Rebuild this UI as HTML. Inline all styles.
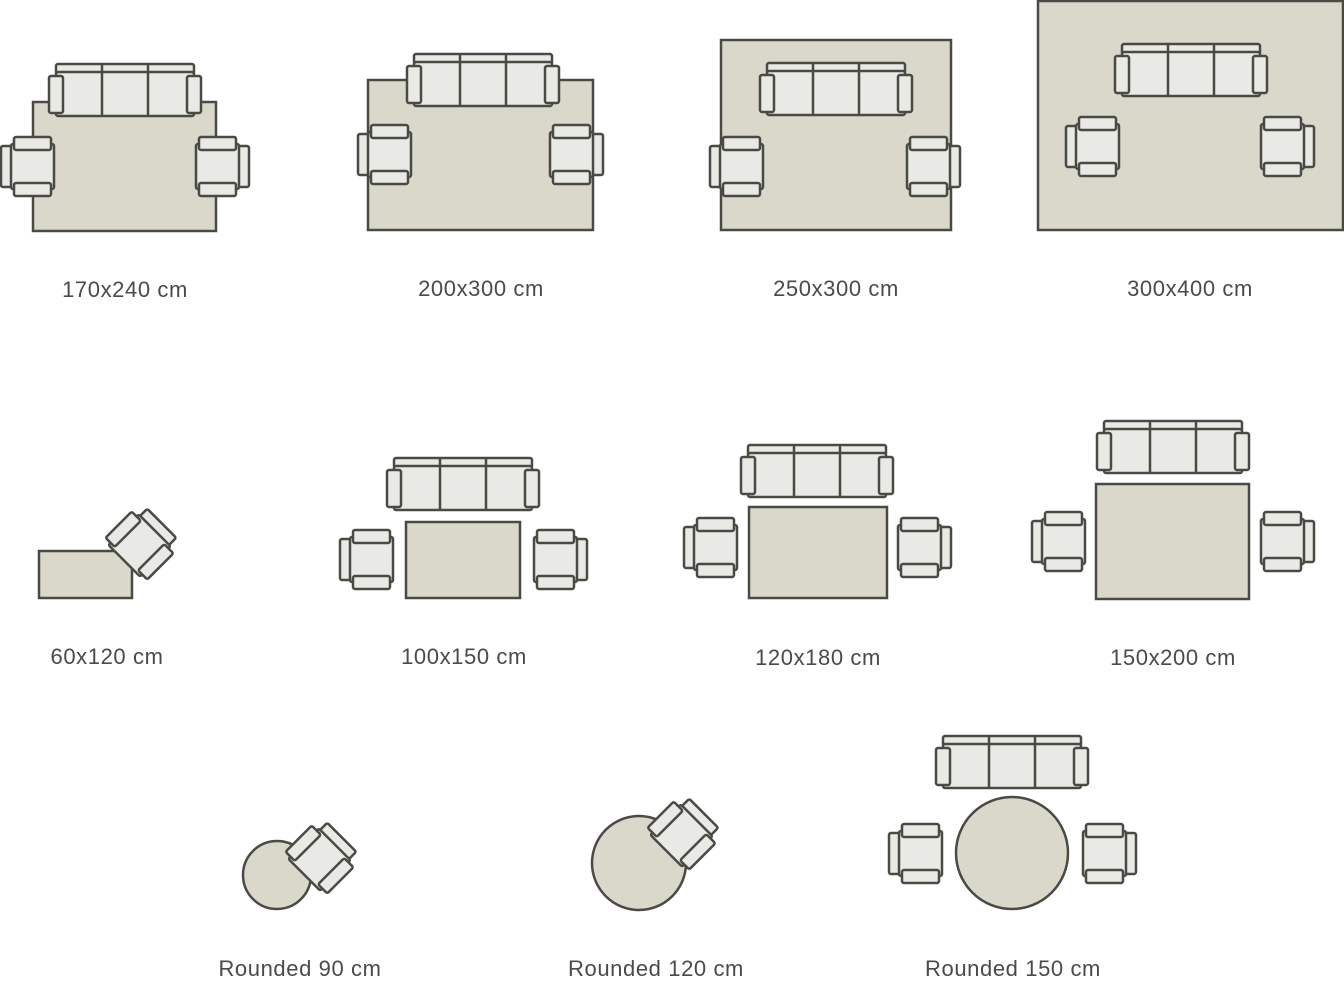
<!DOCTYPE html>
<html><head><meta charset="utf-8"><style>
html,body{margin:0;padding:0;background:#fff;}
svg{display:block}
text{font-family:"Liberation Sans",sans-serif;font-size:22px;letter-spacing:0.6px;fill:#4a4a4a;text-anchor:middle}
</style></head><body>
<svg width="1344" height="1000" viewBox="0 0 1344 1000" xmlns="http://www.w3.org/2000/svg">
<defs>
<g id="sofa" fill="#e9eae5" stroke="#4a4a45" stroke-width="2.5">
  <rect x="7" y="1" width="138" height="10" rx="2"/>
  <rect x="7" y="9" width="138" height="44" rx="2"/>
  <line x1="53" y1="1" x2="53" y2="53"/>
  <line x1="99" y1="1" x2="99" y2="53"/>
  <rect x="0" y="13" width="14" height="37" rx="2"/>
  <rect x="138" y="13" width="14" height="37" rx="2"/>
</g>
<g id="chair" fill="#e9eae5" stroke="#4a4a45" stroke-width="2.5">
  <rect x="0" y="9" width="11" height="41" rx="2"/>
  <rect x="10" y="7" width="43" height="45" rx="2"/>
  <rect x="13" y="0" width="37" height="13" rx="2"/>
  <rect x="13" y="46" width="37" height="13" rx="2"/>
</g>
<g id="chairR"><use href="#chair" transform="translate(53,0) scale(-1,1)"/></g>
</defs>
<g fill="#dad8cb" stroke="#4a4a45" stroke-width="2.5">
<rect x="33" y="102" width="183" height="129"/>
<rect x="368" y="80" width="225" height="150"/>
<rect x="721" y="40" width="230" height="190"/>
<rect x="1038" y="1" width="305" height="229"/>
<rect x="39" y="551" width="93" height="47"/>
<rect x="406" y="522" width="114" height="76"/>
<rect x="749" y="507" width="138" height="91"/>
<rect x="1096" y="484" width="153" height="115"/>
<circle cx="277" cy="875" r="34"/>
<circle cx="639" cy="863" r="47"/>
<circle cx="1012" cy="853" r="56"/>
</g>
<use href="#sofa" x="49" y="63"/>
<use href="#chair" x="1" y="137"/>
<use href="#chairR" x="196" y="137"/>
<use href="#sofa" x="407" y="53"/>
<use href="#chair" x="358" y="125"/>
<use href="#chairR" x="550" y="125"/>
<use href="#sofa" x="760" y="62"/>
<use href="#chair" x="710" y="137"/>
<use href="#chairR" x="907" y="137"/>
<use href="#sofa" x="1115" y="43"/>
<use href="#chair" x="1066" y="117"/>
<use href="#chairR" x="1261" y="117"/>
<use href="#chair" transform="translate(143,542) rotate(135) translate(-26.5,-29.5)"/>
<use href="#sofa" x="387" y="457"/>
<use href="#chair" x="340" y="530"/>
<use href="#chairR" x="534" y="530"/>
<use href="#sofa" x="741" y="444"/>
<use href="#chair" x="684" y="518"/>
<use href="#chairR" x="898" y="518"/>
<use href="#sofa" x="1097" y="420"/>
<use href="#chair" x="1032" y="512"/>
<use href="#chairR" x="1261" y="512"/>
<use href="#chair" transform="translate(323,856) rotate(135) translate(-26.5,-29.5)"/>
<use href="#chair" transform="translate(685,832) rotate(135) translate(-26.5,-29.5)"/>
<use href="#sofa" x="936" y="735"/>
<use href="#chair" x="889" y="824"/>
<use href="#chairR" x="1083" y="824"/>
<text x="125" y="297">170x240 cm</text>
<text x="481" y="296">200x300 cm</text>
<text x="836" y="296">250x300 cm</text>
<text x="1190" y="296">300x400 cm</text>
<text x="107" y="664">60x120 cm</text>
<text x="464" y="664">100x150 cm</text>
<text x="818" y="665">120x180 cm</text>
<text x="1173" y="665">150x200 cm</text>
<text x="300" y="976">Rounded 90 cm</text>
<text x="656" y="976">Rounded 120 cm</text>
<text x="1013" y="976">Rounded 150 cm</text>
</svg>
</body></html>
